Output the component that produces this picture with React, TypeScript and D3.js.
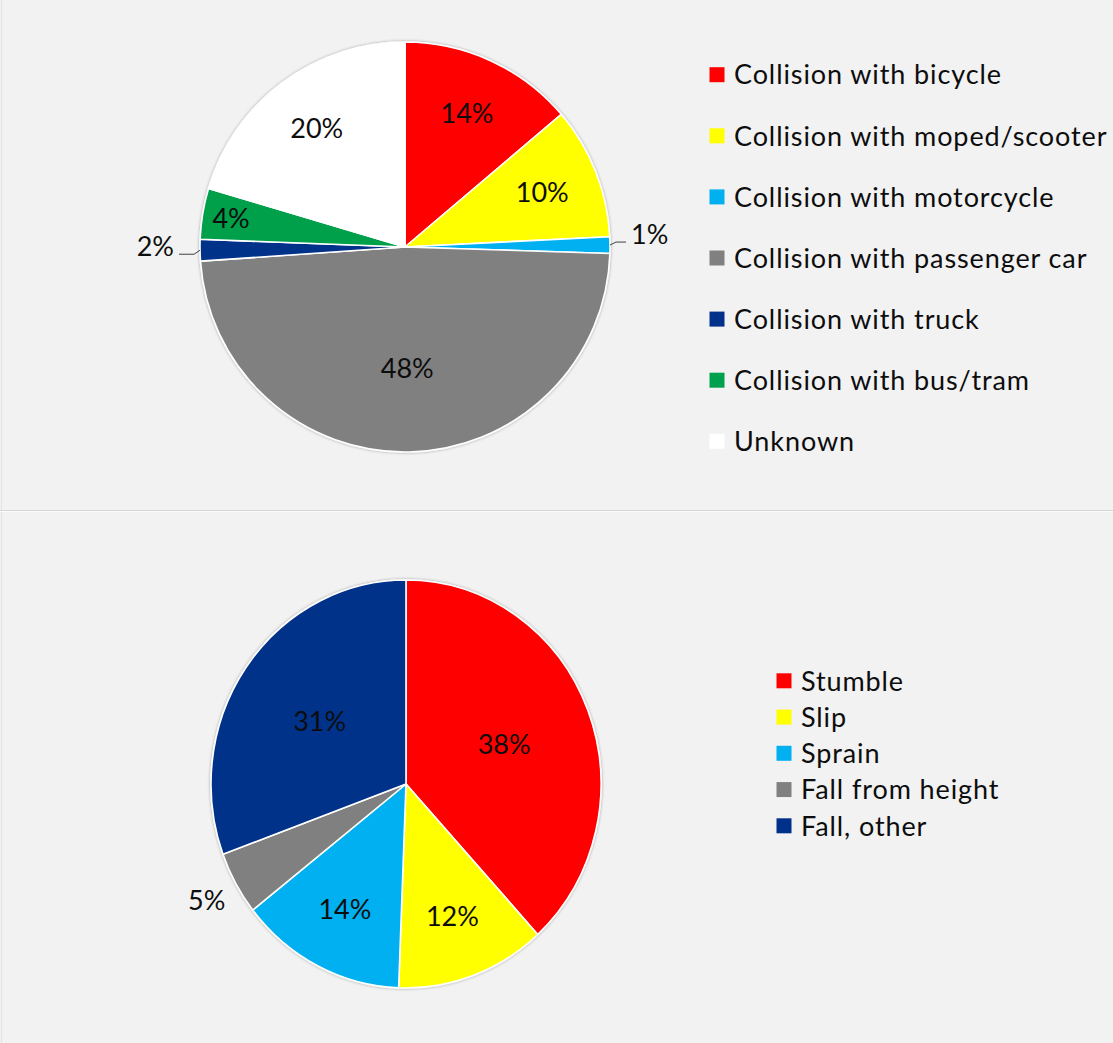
import React from 'react';
import * as d3 from 'd3';

// ---- Data (top chart: traffic collisions) ----
const collisionCategories = [
  'Collision with bicycle',
  'Collision with moped/scooter',
  'Collision with motorcycle',
  'Collision with passenger car',
  'Collision with truck',
  'Collision with bus/tram',
  'Unknown',
];
const collisionValues = [13.8, 10.4, 1.3, 48.4, 1.7, 4.0, 20.4];
const collisionColors = ['#FF0000', '#FFFF00', '#00B0F0', '#808080', '#00318A', '#00A04C', '#FFFFFF'];

// ---- Data (bottom chart: falls) ----
const fallCategories = ['Stumble', 'Slip', 'Sprain', 'Fall from height', 'Fall, other'];
const fallValues = [38.2, 12.4, 13.8, 5.0, 30.6];
const fallColors = ['#FF0000', '#FFFF00', '#00B0F0', '#808080', '#00318A'];

const FONT = 'Lato, "Open Sans", sans-serif';
const W = 1113;
const H = 1043;

type PieProps = {
  categories: string[];
  values: number[];
  colors: string[];
  cx: number;
  cy: number;
  rx: number;
  ry: number;
  labelFrac: (p: number) => number | null; // null => outside
  outsideFrac: number;
  leader: boolean;
  legendX: number;
  legendY: number;
  legendStep: number;
  fontSize: number;
};

function Pie(props: PieProps) {
  const { categories, values, colors, cx, cy, rx, ry, labelFrac, outsideFrac, leader, legendX, legendY, legendStep, fontSize } = props;
  const total = d3.sum(values);
  const arcs = d3.pie<number>().sort(null).value((d) => d)(values);
  const arcGen = d3.arc<d3.PieArcDatum<number>>().innerRadius(0).outerRadius(ry);
  const sx = rx / ry;
  const pt = (a: number, f: number) => [cx + rx * f * Math.sin(a), cy - ry * f * Math.cos(a)];
  const capMid = fontSize * 0.36;
  const legendScale = d3.scalePoint<string>().domain(categories).range([legendY, legendY + legendStep * (categories.length - 1)]);

  return (
    <g>
      <g filter="url(#pieShadow)" transform={`translate(${cx},${cy}) scale(${sx},1)`}>
        {arcs.map((a, i) => (
          <path key={i} d={arcGen(a) || ''} fill={colors[i]} stroke="#FFFFFF" strokeWidth={1.6} vectorEffect="non-scaling-stroke" strokeLinejoin="round" />
        ))}
      </g>
      {arcs.map((a, i) => {
        const p = (a.data / total) * 100;
        const label = `${Math.round(p)}%`;
        const mid = (a.startAngle + a.endAngle) / 2;
        const f = labelFrac(p);
        if (f !== null) {
          const [x, y] = pt(mid, f);
          return (
            <text key={i} x={x} y={y + capMid} textAnchor="middle" fontFamily={FONT} fontSize={fontSize} fill="#0D0D0D">
              {label}
            </text>
          );
        }
        const right = Math.sin(mid) > 0;
        if (leader) {
          const [ex, ey] = pt(mid, 1);
          const dir = right ? 1 : -1;
          const sy = ey + (right ? -3 : 4);
          const bx = ex + dir * 6;
          const endX = ex + dir * (right ? 16 : 21);
          return (
            <g key={i}>
              <path d={`M${ex},${ey}L${bx},${sy}L${endX},${sy}`} fill="none" stroke="#404040" strokeWidth={1} />
              <text x={endX + dir * 5} y={sy + 1.5} textAnchor={right ? 'start' : 'end'} fontFamily={FONT} fontSize={fontSize} fill="#0D0D0D">
                {label}
              </text>
            </g>
          );
        }
        const [x, y] = pt(mid, outsideFrac);
        return (
          <text key={i} x={x} y={y + capMid} textAnchor="middle" fontFamily={FONT} fontSize={fontSize} fill="#0D0D0D">
            {label}
          </text>
        );
      })}
      {categories.map((c, i) => {
        const y = legendScale(c) as number;
        return (
          <g key={c}>
            <rect x={legendX} y={y - 7.5} width={15} height={15} fill={colors[i]} />
            <text x={legendX + 24.5} y={y + capMid} fontFamily={FONT} fontSize={fontSize} letterSpacing={0.9} fill="#0D0D0D">
              {c}
            </text>
          </g>
        );
      })}
    </g>
  );
}

export default function App() {
  return (
    <svg width={W} height={H} viewBox={`0 0 ${W} ${H}`} style={{ position: 'absolute', left: 0, top: 0, display: 'block' }}>
      <defs>
        <filter id="pieShadow" x="-10%" y="-10%" width="120%" height="120%">
          <feDropShadow dx="0" dy="0" stdDeviation="1.8" floodColor="#000000" floodOpacity="0.35" />
        </filter>
      </defs>
      <rect x={0} y={0} width={W} height={H} fill="#F2F2F2" />
      <line x1={1.5} y1={0} x2={1.5} y2={H} stroke="#E2E2E2" strokeWidth={1} />
      <line x1={0} y1={510.5} x2={W} y2={510.5} stroke="#D6D6D6" strokeWidth={1} />
      <line x1={0} y1={511.5} x2={W} y2={511.5} stroke="#FAFAFA" strokeWidth={1} />

      <Pie
        categories={collisionCategories}
        values={collisionValues}
        colors={collisionColors}
        cx={405}
        cy={247}
        rx={205}
        ry={205}
        labelFrac={(p) => (p >= 40 ? 0.59 : p >= 8 ? 0.72 : p >= 3 ? 0.86 : null)}
        outsideFrac={1.15}
        leader={true}
        legendX={709.5}
        legendY={74.7}
        legendStep={61.1}
        fontSize={27}
      />
      <Pie
        categories={fallCategories}
        values={fallValues}
        colors={fallColors}
        cx={406}
        cy={784}
        rx={195}
        ry={204}
        labelFrac={(p) => (p >= 25 ? 0.54 : p >= 8 ? 0.69 : null)}
        outsideFrac={1.17}
        leader={false}
        legendX={776.5}
        legendY={680.8}
        legendStep={36.25}
        fontSize={27}
      />
    </svg>
  );
}
